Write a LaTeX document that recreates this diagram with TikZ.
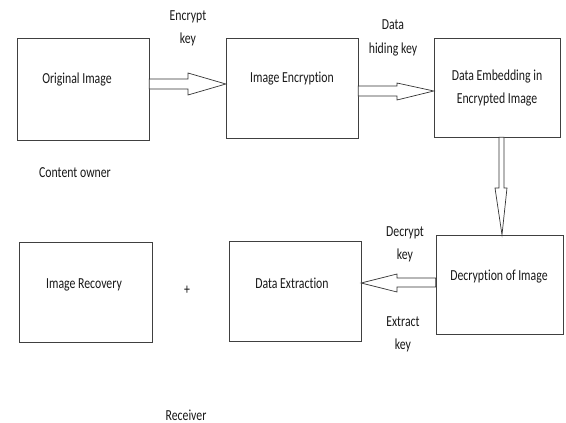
\documentclass[tikz,border=0pt]{standalone}
\usepackage{fontspec}
\setmainfont{Carlito}[Ligatures=NoCommon, FakeStretch=0.77]
\usetikzlibrary{calc}
\begin{document}
\begin{tikzpicture}[x=1pt,y=-1pt,
  every node/.style={font=\fontsize{15.3}{16}\selectfont, text=black!90},
  twoline/.style={align=center, font=\fontsize{15.3}{23}\selectfont},
  procbox/.style={draw=black!75, line width=1pt, fill=white},
  blk/.style={draw=black!80, line width=0.7pt, fill=white, line join=miter}]
\useasboundingbox[fill=white] (0,0) rectangle (566,423);

% process boxes
\path[procbox] (17,38) rectangle (149,140);
\node (orig) [minimum width=132pt, minimum height=102pt, inner sep=0pt] at (83,89) {};
\path[procbox] (226,38) rectangle (358,138);
\node (enc) [minimum width=132pt, minimum height=100pt, inner sep=0pt] at (292,88) {};
\path[procbox] (434,38) rectangle (560,137);
\node (emb) [minimum width=126pt, minimum height=99pt, inner sep=0pt] at (497,87.5) {};
\path[procbox] (436,235) rectangle (563,334);
\node (dec) [minimum width=127pt, minimum height=99pt, inner sep=0pt] at (499.5,284.5) {};
\path[procbox] (229,241) rectangle (361,341);
\node (ext) [minimum width=132pt, minimum height=100pt, inner sep=0pt] at (295,291) {};
\path[procbox] (19,242) rectangle (152,342);
\node (rec) [minimum width=133pt, minimum height=100pt, inner sep=0pt] at (85.5,292) {};

% box captions
\node at (77,80) {Original Image};
\node at (292,79) {Image Encryption};
\node[twoline] at (497,88) {Data Embedding in\\Encrypted Image};
\node at (499,277) {Decryption of Image};
\node at (292,283) {Data Extraction};
\node at (84,285) {Image Recovery};

% block arrows between boxes
\draw[blk] (orig.east |- 0,79) -- (188,79) -- (188,73) -- (enc.west |- 0,84)
  -- (188,95) -- (188,89) -- (orig.east |- 0,89) -- cycle;
\draw[blk] (enc.east |- 0,86) -- (397,86) -- (397,83) -- (emb.west |- 0,91)
  -- (397,100) -- (397,96) -- (enc.east |- 0,96) -- cycle;
\draw[blk] (emb.south -| 499,0) -- (499,188) -- (495,188) -- (dec.north -| 502,0)
  -- (507,188) -- (504,188) -- (emb.south -| 504,0) -- cycle;
\draw[blk] (dec.west |- 0,278) -- (397,278) -- (397,274) -- (ext.east |- 0,283)
  -- (397,292) -- (397,287) -- (dec.west |- 0,287) -- cycle;

% key labels and notes
\node[twoline] (k1) at (188,28) {Encrypt\\key};
\node[twoline, font=\fontsize{15.3}{24}\selectfont] (k2) at (393,38) {Data\\hiding key};
\node[twoline] (k3) at (405,244) {Decrypt\\key};
\node[twoline] (k4) at (403,334) {Extract\\key};
\node (owner) at (75,173) {Content owner};
\node (plus) at (187,290) {+};
\node (recv) at (186,415) {Receiver};
\end{tikzpicture}
\end{document}
